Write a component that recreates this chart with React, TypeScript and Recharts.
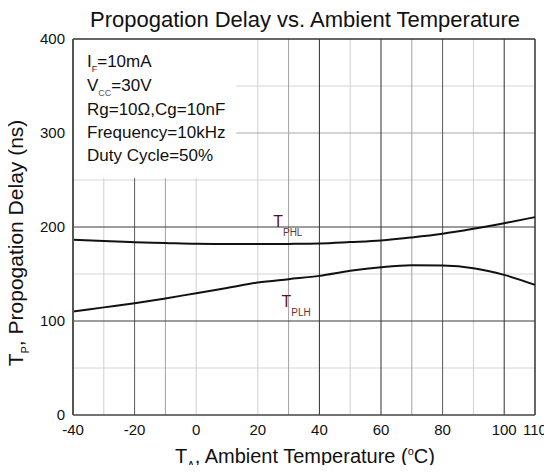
import React from 'react';
import { LineChart, Line, XAxis, YAxis, ReferenceLine, ReferenceDot } from 'recharts';

const temps = [-40, -30, -20, -10, 0, 10, 20, 30, 40, 50, 60, 70, 80, 90, 100, 110];
const tphl = [186.4, 185, 183.9, 183, 182.1, 181.9, 181.8, 182, 182.5, 184, 185.7, 188.9, 192.8, 198.1, 204.1, 210.5];
const tplh = [110, 114.5, 119, 124, 129.6, 135, 140.9, 144.5, 148, 153.4, 157.3, 159.4, 159, 156.2, 149.1, 138.4];

const xTicks = [-40, -20, 0, 20, 40, 60, 80, 100, 110];
const yTicks = [0, 100, 200, 300, 400];

// grid lines, grouped by how dark they print
const gridXDark = [40, 60, 100];
const gridXMid = [-20, 80];
const gridXSoft = [-10, 30, 70];
const gridXLight = [-30, 0, 20, 50, 90];
const gridYDark = [100, 200];
const gridYMid = [300];
const gridYLight = [50, 150, 250, 350];

// the condition box in the top-left corner hides the grid behind it
const boxRight = 13;
const boxBottom = 252;

const conditions = ['=10mA', '=30V', 'Rg=10\u03a9,Cg=10nF', 'Frequency=10kHz', 'Duty Cycle=50%'];

const data = temps.map((t, i) => ({ t, phl: tphl[i], plh: tplh[i] }));

const FONT = '"Liberation Sans", Arial, sans-serif';
const LABEL_RED = '#5a1216';

function vLine(v: number, color: string) {
  const segment = v < boxRight
    ? [{ x: v, y: 0 }, { x: v, y: boxBottom }]
    : [{ x: v, y: 0 }, { x: v, y: 400 }];
  return <ReferenceLine key={'x' + v} segment={segment} stroke={color} strokeWidth={1} />;
}

function hLine(v: number, color: string) {
  const segment = v > boxBottom
    ? [{ x: boxRight, y: v }, { x: 110, y: v }]
    : [{ x: -40, y: v }, { x: 110, y: v }];
  return <ReferenceLine key={'y' + v} segment={segment} stroke={color} strokeWidth={1} />;
}

function curveLabel(sub: string) {
  return (props: any) => (
    <text x={props.cx} y={props.cy} fontFamily={FONT} fill={LABEL_RED}>
      <tspan fontSize={16}>T</tspan>
      <tspan fontSize={10} dy={9} fill="#6b3236">{sub}</tspan>
    </text>
  );
}

export default function App() {
  return (
    <div style={{ position: 'relative', margin: -8, width: 552, height: 473, background: '#fff' }}>
      <LineChart width={552} height={473} data={data} margin={{ top: 39, right: 17, bottom: 28, left: 33 }}>
        {gridYLight.map((v) => hLine(v, '#d6d6d6'))}
        {gridXLight.map((v) => vLine(v, '#cfcfcf'))}
        {gridXSoft.map((v) => vLine(v, '#a0a0a0'))}
        {gridYMid.map((v) => hLine(v, '#a8a8a8'))}
        {gridXMid.map((v) => vLine(v, '#5a5a5a'))}
        {gridXDark.map((v) => vLine(v, '#2e2e2e'))}
        {gridYDark.map((v) => hLine(v, '#3a3a3a'))}
        <ReferenceLine segment={[{ x: -40, y: 400 }, { x: 110, y: 400 }]} stroke="#333" strokeWidth={1.5} />
        <ReferenceLine segment={[{ x: 110, y: 0 }, { x: 110, y: 400 }]} stroke="#333" strokeWidth={1.5} />
        <XAxis
          dataKey="t"
          type="number"
          domain={[-40, 110]}
          ticks={xTicks}
          interval={0}
          height={30}
          tickSize={0}
          tickMargin={9}
          axisLine={{ stroke: '#444', strokeWidth: 1.5 }}
          tickLine={false}
          tick={{ fontSize: 15, fill: '#111', fontFamily: FONT }}
        />
        <YAxis
          type="number"
          domain={[0, 400]}
          ticks={yTicks}
          interval={0}
          width={40}
          tickSize={0}
          tickMargin={8}
          axisLine={{ stroke: '#555', strokeWidth: 2 }}
          tickLine={false}
          tick={{ fontSize: 15, fill: '#111', fontFamily: FONT }}
        />
        <Line type="monotone" dataKey="phl" stroke="#111" strokeWidth={2} dot={false} isAnimationActive={false} />
        <Line type="monotone" dataKey="plh" stroke="#111" strokeWidth={2} dot={false} isAnimationActive={false} />
        <ReferenceDot x={25} y={200.5} r={0} shape={curveLabel('PHL')} />
        <ReferenceDot x={27.7} y={115.3} r={0} shape={curveLabel('PLH')} />
      </LineChart>
      <svg width={552} height={473} style={{ position: 'absolute', left: 0, top: 0, pointerEvents: 'none' }}>
        <text x={305} y={27} textAnchor="middle" fontSize={22} fontFamily={FONT} fill="#111">
          Propogation Delay vs. Ambient Temperature
        </text>
        <g fontFamily={FONT} fontSize={17} fill="#111">
          <text x={87} y={67}>
            <tspan>I</tspan>
            <tspan fontSize={9} dy={5} fill={LABEL_RED}>F</tspan>
            <tspan dy={-5}>{conditions[0]}</tspan>
          </text>
          <text x={87} y={91}>
            <tspan>V</tspan>
            <tspan fontSize={9} dy={5} fill="#555">CC</tspan>
            <tspan dy={-5}>{conditions[1]}</tspan>
          </text>
          <text x={87} y={115}>{conditions[2]}</text>
          <text x={87} y={138}>{conditions[3]}</text>
          <text x={87} y={161}>{conditions[4]}</text>
        </g>
        <text x={305} y={463} textAnchor="middle" fontSize={20} fontFamily={FONT} fill="#111">
          <tspan>T</tspan>
          <tspan fontSize={11} dy={6}>A</tspan>
          <tspan dy={-6}>, Ambient Temperature (</tspan>
          <tspan fontSize={11} dy={-8}>o</tspan>
          <tspan dy={8}>C)</tspan>
        </text>
        <text
          transform="translate(23 243) rotate(-90)"
          textAnchor="middle"
          fontSize={21}
          fontFamily={FONT}
          fill="#111"
        >
          <tspan>T</tspan>
          <tspan fontSize={11} dy={6}>P</tspan>
          <tspan dy={-6}>, Propogation Delay (ns)</tspan>
        </text>
      </svg>
    </div>
  );
}
